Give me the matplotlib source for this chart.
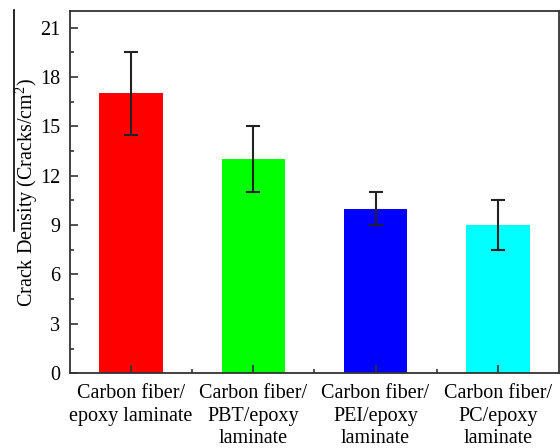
import matplotlib
matplotlib.use('Agg')
import matplotlib.pyplot as plt
from matplotlib.lines import Line2D
from matplotlib.ticker import MultipleLocator, FixedLocator

plt.rcParams['font.family'] = ['Liberation Serif', 'DejaVu Serif']
plt.rcParams['mathtext.fontset'] = 'custom'
plt.rcParams['mathtext.rm'] = 'Liberation Serif'

labels = ['Carbon fiber/\nepoxy laminate', 'Carbon fiber/\nPBT/epoxy\nlaminate',
          'Carbon fiber/\nPEI/epoxy\nlaminate', 'Carbon fiber/\nPC/epoxy\nlaminate']
density = [17, 13, 10, 9]
err_low = [2.5, 2.0, 1.0, 1.5]
err_high = [2.5, 2.0, 1.0, 1.5]
colors = ['#ff0000', '#00ff00', '#0000ff', '#00ffff']

fig = plt.figure(figsize=(5.6, 4.48), dpi=100)
ax = fig.add_axes([0.125, 0.167, 0.873, 0.808])

x = [1, 2, 3, 4]
ax.bar(x, density, width=0.52, color=colors,
       yerr=[err_low, err_high], capsize=5,
       error_kw=dict(ecolor='#222222', elinewidth=1.5, capthick=1.5))

ax.set_xlim(0.5, 4.5)
ax.set_ylim(0, 22)
ax.yaxis.set_major_locator(FixedLocator([0, 3, 6, 9, 12, 15, 18, 21]))
ax.yaxis.set_minor_locator(MultipleLocator(1.5))
ax.set_xticks(x)
ax.set_xticklabels(labels, fontsize=14.5, linespacing=1.25)
ax.xaxis.set_minor_locator(FixedLocator([1.5, 2.5, 3.5]))
ax.tick_params(axis='both', which='major', direction='in', length=6, width=1.2,
               color='#333333', labelsize=14.5)
ax.tick_params(axis='both', which='minor', direction='in', length=3, width=1.2,
               color='#333333')
ax.tick_params(axis='x', which='both', pad=8)
ax.tick_params(axis='y', which='both', pad=7)
ax.set_ylabel('Crack Density (Cracks/cm$\\mathregular{^2}$)', fontsize=14.5)
ax.yaxis.set_label_coords(-0.061, 0.5)
for s in ax.spines.values():
    s.set_linewidth(1.3)
    s.set_color('#333333')

# stray vertical line at left edge of the scan
fig.add_artist(Line2D([0.025, 0.025], [0.485, 0.978], color='black', lw=1.2,
                      transform=fig.transFigure))

fig.savefig('out.png', dpi=100)
